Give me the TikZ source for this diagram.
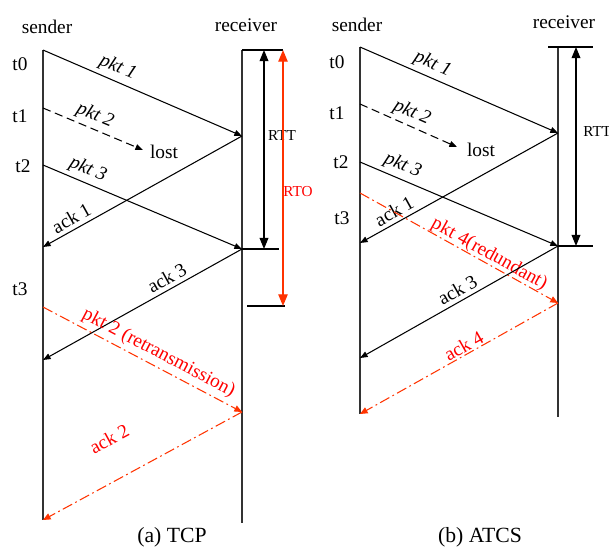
\documentclass[tikz,border=0pt]{standalone}
\usepackage{fontspec}
\setmainfont{Liberation Serif}
\usetikzlibrary{arrows.meta}
\definecolor{redln}{RGB}{255,51,0}
\definecolor{redtx}{RGB}{255,0,0}
\begin{document}
\begin{tikzpicture}[x=0.03cm,y=-0.03cm,
  lbl/.style={font=\fontsize{16.5}{19}\selectfont, inner sep=1pt},
  pk/.style={font=\fontsize{16.5}{19}\selectfont\itshape, sloped, above},
  ak/.style={font=\fontsize{16.5}{19}\selectfont, sloped, above},
  rk/.style={font=\fontsize{16.5}{19}\selectfont, sloped, above, text=redtx},
  captext/.style={font=\fontsize{18.5}{22}\selectfont},
  smalltxt/.style={font=\fontsize{13}{15}\selectfont, inner sep=1pt},
  msg/.style={line width=0.9pt, -{Triangle[length=6.5pt,width=5pt]}},
  lostmsg/.style={msg, dash pattern=on 7pt off 4pt},
  redmsg/.style={line width=0.9pt, redln, dash pattern=on 9pt off 3pt on 1.5pt off 3pt, -{Triangle[length=6.5pt,width=5.5pt]}},
  life/.style={line width=1.3pt, black!80},
  tickln/.style={line width=1pt},
  spanarrow/.style={line width=1pt, {Triangle[length=9.5pt,width=7.5pt]}-{Triangle[length=9.5pt,width=7.5pt]}},
  redspan/.style={line width=1.2pt, redln, {Triangle[length=10pt,width=8pt]}-{Triangle[length=10pt,width=8pt]}},
]
\useasboundingbox (0,0) rectangle (609,547);

%%%%%%%%%%%%%%%% (a) TCP
\coordinate (aStop) at (43,50);
\coordinate (aSbot) at (43,520);
\coordinate (aRtop) at (242,50);
\coordinate (aRbot) at (242,523);
\draw[life] (aStop) -- (aSbot);
\draw[life] (aRtop) -- (aRbot);

\node[lbl] (asender) at (47,27) {sender};
\node[lbl] (areceiver) at (246,25) {receiver};
\node[lbl] (at0) at (20,64) {t0};
\node[lbl] (at1) at (20,116) {t1};
\node[lbl] (at2) at (23,166) {t2};
\node[lbl] (at3) at (20,289) {t3};

\coordinate (aS0) at (43,50);
\coordinate (aR1) at (242,136);
\coordinate (aS1) at (43,108);
\coordinate (aL) at (143,150);
\coordinate (aS2) at (43,165);
\coordinate (aR3) at (242,249);
\coordinate (aA1) at (43,247);
\coordinate (aA3) at (43,360);
\coordinate (aS3) at (43,307);
\coordinate (aR2) at (242,412);
\coordinate (aA2) at (43,520);

\draw[msg] (aS0) -- node[pk,pos=.35] {pkt 1} (aR1);
\draw[lostmsg] (aS1) -- node[pk,pos=.47] {pkt 2} (aL);
\node[lbl] (alost) at (164,152) {lost};
\draw[msg] (aS2) -- node[pk,pos=.2] {pkt 3} (aR3);
\draw[msg] (aR1) -- node[ak,pos=.83] {ack 1} (aA1);
\draw[msg] (aR3) -- node[ak,pos=.35] {ack 3} (aA3);
\draw[redmsg] (aS3) -- node[rk,pos=.55] {pkt 2 (retransmission)} (aR2);
\draw[redmsg] (aR2) -- node[rk,pos=.573,above=24pt] {ack 2} (aA2);

% RTT / RTO
\coordinate (aTt0) at (242,50);
\coordinate (aTt1) at (283,50);
\coordinate (aTb0) at (242,249);
\coordinate (aTb1) at (279,249);
\coordinate (aOb0) at (247,306);
\coordinate (aOb1) at (285,306);
\coordinate (aRTTt) at (264,50);
\coordinate (aRTTb) at (264,249);
\coordinate (aRTOt) at (283,50);
\coordinate (aRTOb) at (283,306);
\draw[tickln] (aTt0) -- (aTt1);
\draw[tickln] (aTb0) -- (aTb1);
\draw[tickln] (aOb0) -- (aOb1);
\draw[spanarrow] (aRTTt) -- (aRTTb);
\node[smalltxt] (artt) at (282,136) {RTT};
\draw[redspan] (aRTOt) -- (aRTOb);
\node[smalltxt,text=redtx] (arto) at (298,192) {RTO};

\node[captext] (capa) at (172,537) {(a) TCP};

%%%%%%%%%%%%%%%% (b) ATCS
\coordinate (bStop) at (360,47);
\coordinate (bSbot) at (360,414);
\coordinate (bRtop) at (558,47);
\coordinate (bRbot) at (558,417);
\draw[life] (bStop) -- (bSbot);
\draw[life] (bRtop) -- (bRbot);

\node[lbl] (bsender) at (357,25) {sender};
\node[lbl] (breceiver) at (564,22) {receiver};
\node[lbl] (bt0) at (337,62) {t0};
\node[lbl] (bt1) at (337,113) {t1};
\node[lbl] (bt2) at (341,162) {t2};
\node[lbl] (bt3) at (342,218) {t3};

\coordinate (bS0) at (360,47);
\coordinate (bR1) at (558,133);
\coordinate (bS1) at (360,104);
\coordinate (bL) at (457,147);
\coordinate (bS2) at (360,162);
\coordinate (bR3) at (558,246);
\coordinate (bA1) at (360,243);
\coordinate (bS4) at (360,193);
\coordinate (bR4) at (558,303);
\coordinate (bA3) at (360,358);
\coordinate (bA4) at (360,414);

\draw[msg] (bS0) -- node[pk,pos=.34] {pkt 1} (bR1);
\draw[lostmsg] (bS1) -- node[pk,pos=.48] {pkt 2} (bL);
\node[lbl] (blost) at (481,150) {lost};
\draw[msg] (bS2) -- node[pk,pos=.19] {pkt 3} (bR3);
\draw[msg] (bR1) -- node[ak,pos=.80] {ack 1} (bA1);
\draw[redmsg] (bS4) -- node[rk,pos=.63,inner sep=0pt] {pkt 4(redundant)} (bR4);
\draw[msg] (bR3) -- node[ak,pos=.48] {ack 3} (bA3);
\draw[redmsg] (bR4) -- node[rk,pos=.455,inner sep=1pt] {ack 4} (bA4);

\coordinate (bTt0) at (548,47);
\coordinate (bTt1) at (593,47);
\coordinate (bTb0) at (558,246);
\coordinate (bTb1) at (593,246);
\coordinate (bRTTt) at (576,47);
\coordinate (bRTTb) at (576,246);
\draw[tickln] (bTt0) -- (bTt1);
\draw[tickln] (bTb0) -- (bTb1);
\draw[spanarrow] (bRTTt) -- (bRTTb);
\node[smalltxt,anchor=west] (brtt) at (582,132) {RTT};

\node[captext] (capb) at (480,537) {(b) ATCS};
\end{tikzpicture}
\end{document}
